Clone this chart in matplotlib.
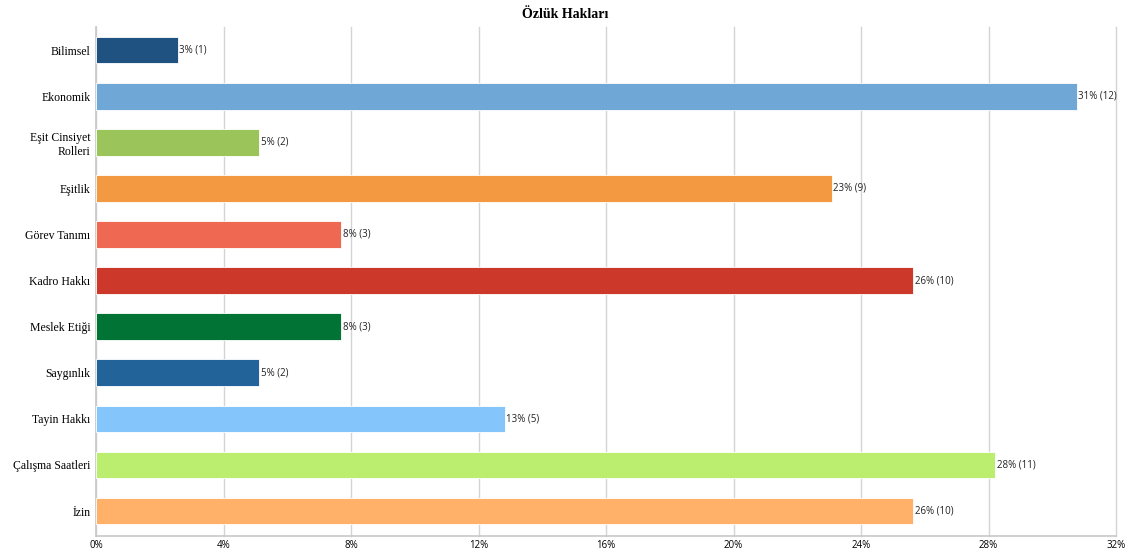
import numpy as np
import matplotlib.pyplot as plt

categories = ['Bilimsel', 'Ekonomik', 'Eşit Cinsiyet\nRolleri', 'Eşitlik', 'Görev Tanımı',
              'Kadro Hakkı', 'Meslek Etiği', 'Saygınlık', 'Tayin Hakkı',
              'Çalışma Saatleri', 'İzin']
counts = [1, 12, 2, 9, 3, 10, 3, 2, 5, 11, 10]
total = 39
colors = ['#1f5281', '#6fa8d6', '#9bc55a', '#f39942', '#ef6852', '#cc3829',
          '#007335', '#226399', '#84c6fb', '#bbee6e', '#ffb069']
xticks = [0, 4, 8, 12, 16, 20, 24, 28, 32]

pcts = [c / total * 100 for c in counts]

fig = plt.figure(figsize=(11.31, 5.54), dpi=100)
ax = fig.add_axes([96 / 1131, 18 / 554, 1020 / 1131, 509 / 554])

y = np.arange(len(categories))
ax.barh(y, pcts, height=0.58, color=colors, edgecolor='white', linewidth=0.6, zorder=3)

for yi, p, c in zip(y, pcts, counts):
    ax.text(p + 0.05, yi, f'{round(p)}% ({c})', va='center', ha='left',
            fontsize=7, family='Open Sans', color='#222222', zorder=4)

ax.set_xlim(0, 32)
ax.set_ylim(10.54, -0.5)
ax.set_xticks(xticks)
ax.set_xticklabels([f'{t}%' for t in xticks], family='Open Sans', fontsize=7)
ax.set_yticks(y)
ax.set_yticklabels(categories, family='Liberation Serif', fontsize=8.5)
ax.tick_params(axis='both', length=0, pad=4)
ax.tick_params(axis='x', pad=3)

ax.grid(axis='x', color='#d4d4d4', linewidth=1, zorder=0)
for gl in ax.get_xgridlines():
    gl.set_clip_on(False)
for s in ['top', 'right']:
    ax.spines[s].set_visible(False)
for s in ['left', 'bottom']:
    ax.spines[s].set_color('#c8c8c8')
    ax.spines[s].set_linewidth(1.2)

fig.text(0.5, 0.985, 'Özlük Hakları', ha='center', va='top',
         family='Liberation Serif', fontweight='bold', fontsize=10)

fig.savefig('out.png', dpi=100)
